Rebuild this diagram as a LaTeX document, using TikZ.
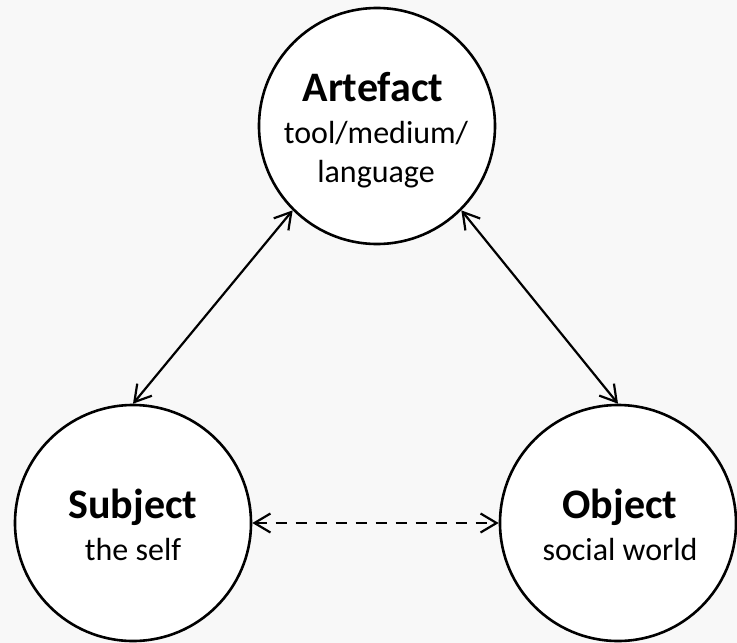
\documentclass[tikz,border=0pt]{standalone}
\usepackage{fontspec}
\setmainfont{Carlito}
\usetikzlibrary{arrows.meta}
\definecolor{paper}{RGB}{248,248,248}
\begin{document}
\begin{tikzpicture}[x=1pt,y=-1pt,
  roundbox/.style={circle,draw=black,line width=2.6pt,fill=white,
    minimum size=236pt,inner sep=0pt},
  headtext/.style={anchor=base,inner sep=0pt,font=\fontsize{42}{42}\selectfont\bfseries},
  subtext/.style={anchor=base,inner sep=0pt,font=\fontsize{32}{32}\selectfont},
  barb/.tip={Straight Barb[length=16pt,width=19pt,line width=2.2pt]},
  link/.style={line width=2.2pt,barb-barb}
]
% canvas
\fill[paper] (0,0) rectangle (737,643);
\useasboundingbox (0,0) rectangle (737,643);

% the three circles
\node[roundbox] (art) at (377,126) {};
\node[roundbox] (sub) at (133,523) {};
\node[roundbox] (obj) at (618,523) {};

% labels
\node[headtext] (artH) at (373,101) {Artefact};
\node[subtext]  (artA) at (376,143) {tool/medium/};
\node[subtext]  (artB) at (376,182) {language};

\node[headtext] (subH) at (133,518) {Subject};
\node[subtext]  (subA) at (133,560) {the self};

\node[headtext] (objH) at (620,518) {Object};
\node[subtext]  (objA) at (620,560) {social world};

% connectors
\draw[link] (art.south west) -- (sub.north);
\draw[link] (art.south east) -- (obj.north);
\draw[link,dash pattern=on 11pt off 9pt] (sub.east) -- (obj.west);
\end{tikzpicture}
\end{document}
